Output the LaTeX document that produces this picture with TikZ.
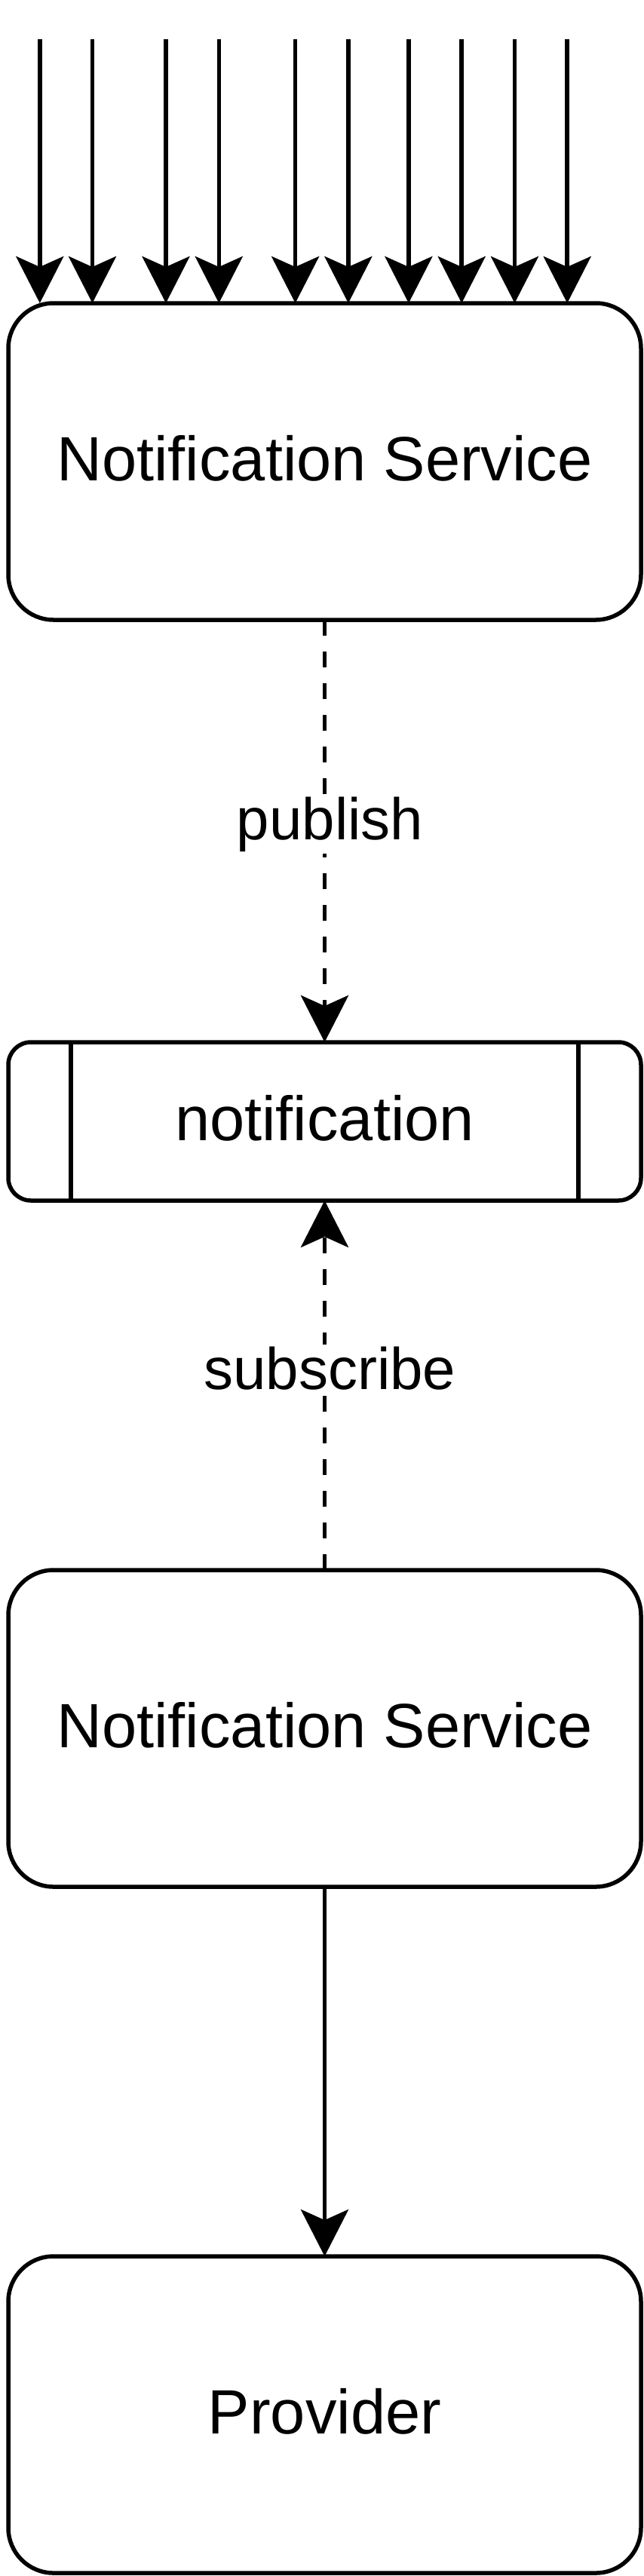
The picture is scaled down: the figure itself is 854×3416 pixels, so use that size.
\documentclass[tikz,border=0pt]{standalone}
\usepackage{fontspec}
\setmainfont{Liberation Sans}
\usetikzlibrary{arrows.meta,calc}
\begin{document}
\begin{tikzpicture}[x=1pt,y=-1pt,
  every node/.style={outer sep=0pt},
  boxbig/.style={draw=black,line width=5.5pt,rounded corners=60pt,minimum width=839pt,minimum height=420pt,inner sep=0pt,text height=60pt,text depth=10pt,font=\fontsize{83}{100}\selectfont},
  queuebox/.style={draw=black,line width=5.5pt,rounded corners=30pt,minimum width=839pt,minimum height=210pt,inner sep=0pt,text height=60pt,text depth=10pt,font=\fontsize{83}{100}\selectfont},
  arr/.style={draw=black,line width=5.5pt,-{Stealth[length=62pt,width=63pt,inset=14pt]}},
  dashline/.style={dash pattern=on 21pt off 21pt},
  lbl/.style={fill=white,inner sep=3pt,font=\fontsize{78}{94}\selectfont}
]
\useasboundingbox (0,0) rectangle (854,3416);
\node[boxbig] (ns1) at (430.5,612) {Notification Service};
\node[queuebox] (notif) at (430.5,1487) {notification};
\draw[line width=5.5pt] ([xshift=83pt]notif.north west) -- ([xshift=83pt]notif.south west);
\draw[line width=5.5pt] ([xshift=-83pt]notif.north east) -- ([xshift=-83pt]notif.south east);
\node[boxbig] (ns2) at (430.5,2292) {Notification Service};
\node[boxbig] (prov) at (430.5,3202) {Provider};
\foreach \i/\x in {1/52.8,2/122.5,3/220,4/290.3,5/391.6,6/461.9,7/541.9,8/612.2,9/682.5,10/752.2}{
  \coordinate (s\i) at (\x,52);
  \draw[arr] (s\i) -- (s\i |- ns1.north);
}
\draw[arr,dashline] (ns1.south) -- node[lbl,pos=0.484,xshift=7pt] {publish} (notif.north);
\draw[arr,dashline] (ns2.north) -- node[lbl,pos=0.545,xshift=7pt] {subscribe} (notif.south);
\draw[arr] (ns2.south) -- (prov.north);
\end{tikzpicture}
\end{document}
